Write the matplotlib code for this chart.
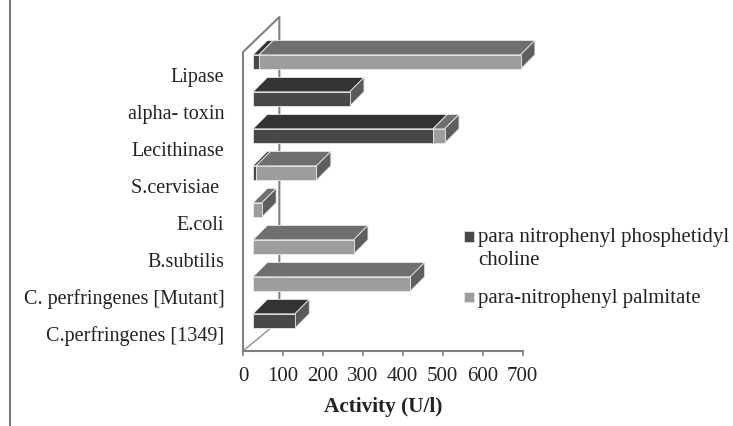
"""
Pseudo 3D stacked bar chart of activity per enzyme / organism.
"""

import matplotlib
matplotlib.use("Agg")
import matplotlib.pyplot as plt
from matplotlib.lines import Line2D
from matplotlib.patches import Rectangle

# bottom to top
categories = ["C.perfringenes [1349]", "C. perfringenes [Mutant]", "B.subtilis", "E.coli",
              "S.cervisiae ", "Lecithinase", "alpha- toxin", "Lipase"]
choline = [105, 0, 0, 0, 8, 451, 242, 15]
palmitate = [0, 394, 252, 22, 151, 29, 0, 655]
x_ticks = [0, 100, 200, 300, 400, 500, 600, 700]

label_choline = "para nitrophenyl phosphetidyl\ncholine"
label_palmitate = "para-nitrophenyl palmitate"

plt.rcParams['font.family'] = ['Liberation Serif', 'DejaVu Serif']

W, H = 733, 427
fig = plt.figure(figsize=(W / 100, H / 100), dpi=100)
ax = fig.add_axes([243 / W, 1 - 352 / H, 279.5 / W, 334 / H])
ax.set_xlim(0, 700)
ax.set_ylim(-30 / 37, 304 / 37)

# bar geometry in data units
shift = 25
depth_x = 36
depth_y = 0.39
bar_h = 0.386

dark = {"front": "#484848", "top": "#333333", "side": "#5a5a5a"}
light = {"front": "#9d9d9d", "top": "#6f6f6f", "side": "#5e5e5e"}

# back wall and floor
wall_x = [0, 0, 0.13, 0.13]
wall_y = [0, 0.895, 1, 0.09]
ax.plot(wall_x, wall_y, color="#808080", lw=1.5, transform=ax.transAxes, clip_on=False, zorder=1)
ax.plot([0, 0.13], [0, 0.09], color="#909090", lw=1.0, transform=ax.transAxes, clip_on=False, zorder=1)


def draw_segment(y, left, width, colors):
    if width <= 0:
        return
    x0 = left + shift
    x1 = x0 + width
    y0 = y - bar_h / 2
    y1 = y + bar_h / 2
    ax.fill([x0, x1, x1 + depth_x, x0 + depth_x], [y1, y1, y1 + depth_y, y1 + depth_y],
            color=colors["top"], ec="#e8e8e8", lw=0.6, clip_on=False, zorder=3)
    ax.fill([x1, x1 + depth_x, x1 + depth_x, x1], [y0, y0 + depth_y, y1 + depth_y, y1],
            color=colors["side"], ec="#e8e8e8", lw=0.6, clip_on=False, zorder=3)
    ax.barh(y, width, left=x0, height=bar_h, color=colors["front"], ec="#e8e8e8", lw=0.6,
            clip_on=False, zorder=3)


for i, cat in enumerate(categories):
    draw_segment(i, 0, choline[i], dark)
    draw_segment(i, choline[i], palmitate[i], light)

# axes
for side in ["top", "left", "right"]:
    ax.spines[side].set_visible(False)
ax.spines["bottom"].set_color("#808080")
ax.spines["bottom"].set_linewidth(1.5)
ax.patch.set_alpha(0)

ax.set_xticks(x_ticks)
ax.tick_params(axis="x", length=3.5, width=1.2, color="#808080", labelsize=15, pad=7, labelcolor="#222222")
ax.set_yticks([i - 12 / 37 for i in range(len(categories))])
ax.set_yticklabels(categories)
ax.tick_params(axis="y", length=0, pad=13.5, labelsize=14.5, labelcolor="#222222")
ax.set_xlabel("Activity (U/l)", fontsize=15.3, fontweight="bold", color="#222222", labelpad=8)

# legend
fig.add_artist(Rectangle((463.5 / W, 1 - 243 / H), 10 / W, 11 / H, transform=fig.transFigure,
                         fc=dark["front"], ec="#e8e8e8", lw=0.5))
fig.add_artist(Rectangle((463.5 / W, 1 - 303 / H), 10 / W, 10 / H, transform=fig.transFigure,
                         fc=light["front"], ec="#e8e8e8", lw=0.5))
fig.text(478 / W, 1 - 228 / H, label_choline, fontsize=15, color="#222222", va="top", linespacing=1.32)
fig.text(478 / W, 1 - 298 / H, label_palmitate, fontsize=15, color="#222222", va="center")

# page rule at the left
fig.add_artist(Line2D([10 / W, 10 / W], [0, 1], color="#777777", lw=1.5, transform=fig.transFigure))

fig.savefig("out.png", dpi=100)
